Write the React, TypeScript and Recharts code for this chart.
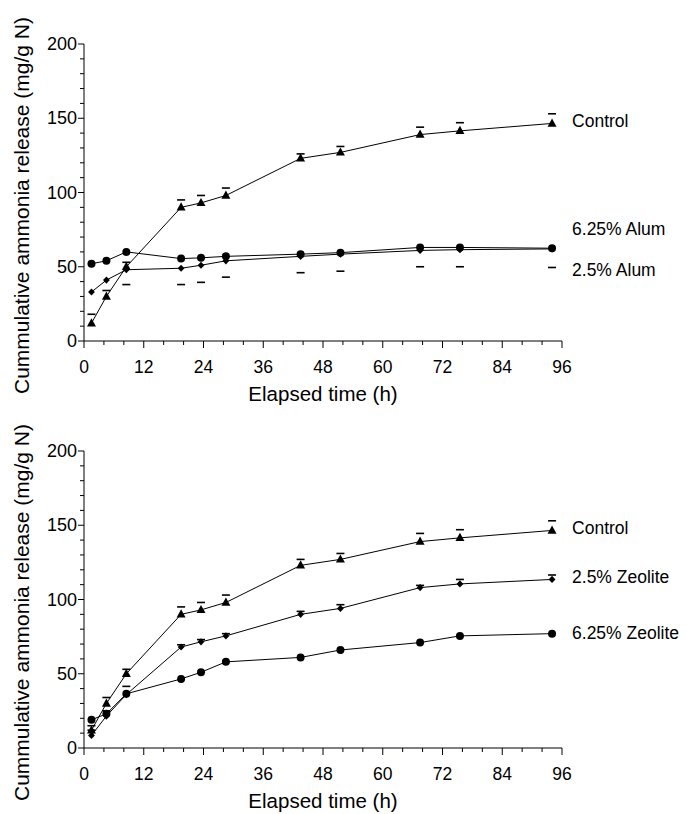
import React from "react";
import { ComposedChart, Line, Scatter, XAxis, YAxis, Label } from "recharts";

const hours = [1.5, 4.5, 8.5, 19.5, 23.5, 28.5, 43.5, 51.5, 67.5, 75.5, 94];

const control = [12, 30, 50, 90, 93, 98, 123, 127, 139, 141.5, 146.5];
const alum25 = [33, 41, 48, 49, 51, 54, 57, 58.5, 61, 61.5, 62];
const alum625 = [52, 54, 60, 55.5, 56, 57, 58.5, 59.5, 63, 63, 62.5];
const zeo25 = [8.5, 21.5, 36, 68, 71.5, 75.5, 90, 94, 108, 110.5, 113.5];
const zeo625 = [19, 23, 36.5, 46.5, 51, 58, 61, 66, 71, 75.5, 77];

// error bar caps as read off the dashes (null = not visible)
const controlCapsA = [18, 34, 53, 95, 98, 103, 126, 131, 144, 147, 153];
const alum25Caps = [null, null, 38, 38, 39.5, 43, 46, 47, 50, 50, 49.5];
const controlCapsB = [15, 34, 53, 95, 98, 103, 127, 131, 144.5, 147, 153];
const zeo25Caps = [12, 25, 41.5, 69.5, 73, 77, 92, 96.5, 109.5, 113.5, 116.5];

const xTicks = [0, 4, 8, 12, 16, 20, 24, 28, 32, 36, 40, 44, 48, 52, 56, 60, 64, 68, 72, 76, 80, 84, 88, 92, 96];
const xLabels = [0, 12, 24, 36, 48, 60, 72, 84, 96];
const yTicks = [0, 10, 20, 30, 40, 50, 60, 70, 80, 90, 100, 110, 120, 130, 140, 150, 160, 170, 180, 190, 200];
const yLabels = [0, 50, 100, 150, 200];

const FONT = "'Liberation Sans', Arial, Helvetica, sans-serif";
const W = 687;
const H = 407;

type Marker = "triangle" | "diamond" | "circle";

interface SeriesDef {
  key: string;
  name: string;
  values: number[];
  marker: Marker;
  labelDy: number;
}

function drawMarker(marker: Marker, cx: number, cy: number, key: string) {
  if (cx == null || cy == null || isNaN(cx) || isNaN(cy)) return <g key={key} />;
  if (marker === "triangle") {
    return (
      <polygon
        key={key}
        points={`${cx},${cy - 5} ${cx - 4.5},${cy + 3.2} ${cx + 4.5},${cy + 3.2}`}
        fill="#000"
      />
    );
  }
  if (marker === "diamond") {
    return (
      <polygon
        key={key}
        points={`${cx},${cy - 3.6} ${cx + 3.4},${cy} ${cx},${cy + 3.6} ${cx - 3.4},${cy}`}
        fill="#000"
      />
    );
  }
  return <circle key={key} cx={cx} cy={cy} r={4} fill="#000" />;
}

function XTick(props: any) {
  const { x, y, payload } = props;
  const major = xLabels.includes(payload.value);
  return (
    <g>
      <line x1={x} y1={y} x2={x} y2={y + (major ? 7 : 4)} stroke="#000" strokeWidth={1} />
      {major && (
        <text x={x} y={y + 26} textAnchor="middle" dominantBaseline="central" fontSize={17.5} fontFamily={FONT} fill="#000">
          {payload.value}
        </text>
      )}
    </g>
  );
}

function YTick(props: any) {
  const { x, y, payload } = props;
  const major = yLabels.includes(payload.value);
  return (
    <g>
      <line x1={x - (major ? 6 : 4)} y1={y} x2={x} y2={y} stroke="#000" strokeWidth={1} />
      {major && (
        <text x={x - 7} y={y} textAnchor="end" dominantBaseline="central" fontSize={18} fontFamily={FONT} fill="#000">
          {payload.value}
        </text>
      )}
    </g>
  );
}

function Panel({ series, caps }: { series: SeriesDef[]; caps: (number | null)[][] }) {
  const rows = hours.map((t, i) => {
    const r: Record<string, number> = { t };
    series.forEach((s) => (r[s.key] = s.values[i]));
    return r;
  });
  const last = hours.length - 1;

  return (
    <ComposedChart width={W} height={H} data={rows} margin={{ top: 44, right: 125, bottom: 0, left: 0 }}>
      <XAxis
        dataKey="t"
        type="number"
        domain={[0, 96]}
        ticks={xTicks}
        interval={0}
        tick={<XTick />}
        tickLine={false}
        tickSize={0}
        tickMargin={0}
        axisLine={{ stroke: "#000" }}
        height={66}
      >
        <Label
          content={(p: any) => {
            const vb = p.viewBox;
            return (
              <text x={vb.x + vb.width / 2} y={vb.y + 60} textAnchor="middle" fontSize={20.5} fontFamily={FONT} fill="#000">
                Elapsed time (h)
              </text>
            );
          }}
        />
      </XAxis>
      <YAxis
        type="number"
        domain={[0, 200]}
        ticks={yTicks}
        interval={0}
        tick={<YTick />}
        tickLine={false}
        tickSize={0}
        tickMargin={0}
        axisLine={{ stroke: "#000" }}
        width={84}
      >
        <Label
          content={(p: any) => {
            const vb = p.viewBox;
            const cx = vb.x + 29;
            const cy = vb.y + vb.height / 2 + 13;
            return (
              <text
                x={cx}
                y={cy}
                transform={`rotate(-90, ${cx}, ${cy})`}
                textAnchor="middle"
                fontSize={21}
                fontFamily={FONT}
                fill="#000"
              >
                Cummulative ammonia release (mg/g N)
              </text>
            );
          }}
        />
      </YAxis>
      {caps.map((c, ci) => (
        <Scatter
          key={`cap-${ci}`}
          data={hours.map((t, i) => ({ t, v: c[i] })).filter((d) => d.v != null)}
          dataKey="v"
          isAnimationActive={false}
          shape={(p: any) => (
            <line x1={p.cx - 4} x2={p.cx + 4} y1={p.cy} y2={p.cy} stroke="#000" strokeWidth={1.6} />
          )}
        />
      ))}
      {series.map((s) => (
        <Line
          key={s.key}
          dataKey={s.key}
          type="linear"
          stroke="#000"
          strokeWidth={1}
          isAnimationActive={false}
          dot={(p: any) => drawMarker(s.marker, p.cx, p.cy, `${s.key}-${p.index}`)}
          activeDot={false}
          label={(p: any) => {
            if (p.index !== last) return <g key={`l-${s.key}-${p.index}`} />;
            const vx = p.viewBox?.x ?? p.x;
            const vy = p.viewBox?.y ?? p.y;
            return (
              <text
                key={`l-${s.key}`}
                x={vx + 20}
                y={vy + s.labelDy}
                dominantBaseline="central"
                fontSize={17.5}
                fontFamily={FONT}
                fill="#000"
              >
                {s.name}
              </text>
            );
          }}
        />
      ))}
    </ComposedChart>
  );
}

const alumSeries: SeriesDef[] = [
  { key: "control", name: "Control", values: control, marker: "triangle", labelDy: -2 },
  { key: "a625", name: "6.25% Alum", values: alum625, marker: "circle", labelDy: -19 },
  { key: "a25", name: "2.5% Alum", values: alum25, marker: "diamond", labelDy: 21 },
];

const zeoSeries: SeriesDef[] = [
  { key: "control", name: "Control", values: control, marker: "triangle", labelDy: -2 },
  { key: "z25", name: "2.5% Zeolite", values: zeo25, marker: "diamond", labelDy: -2 },
  { key: "z625", name: "6.25% Zeolite", values: zeo625, marker: "circle", labelDy: -1 },
];

export default function App() {
  return (
    <div style={{ position: "absolute", left: 0, top: 0, width: W, height: 814, background: "#fff" }}>
      <Panel series={alumSeries} caps={[controlCapsA, alum25Caps]} />
      <Panel series={zeoSeries} caps={[controlCapsB, zeo25Caps]} />
    </div>
  );
}
